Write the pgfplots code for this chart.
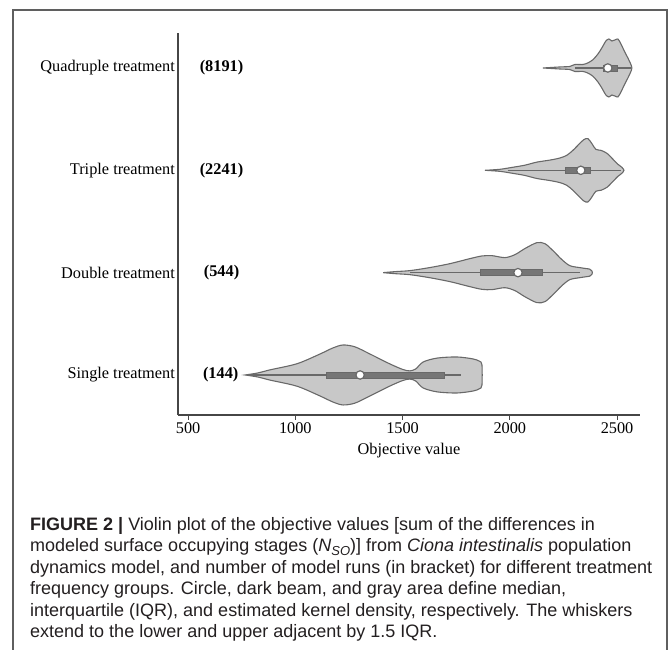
\documentclass[border=0pt]{standalone}
\usepackage{fontspec}
\setmainfont{Liberation Serif}
\newfontfamily\capfont{Liberation Sans}
\usepackage{pgfplots}
\pgfplotsset{compat=1.18}
\definecolor{vfill}{RGB}{200,200,200}
\definecolor{vedge}{RGB}{105,105,105}
\definecolor{beam}{RGB}{118,118,118}
\definecolor{framecol}{RGB}{95,95,95}
\definecolor{axcol}{RGB}{70,70,70}
\definecolor{captext}{RGB}{35,31,32}
\begin{document}
\begin{tikzpicture}[x=1bp,y=1bp]
\draw[framecol, line width=1.3bp] (13,-5) -- (13,640) -- (667,640) -- (667,-5);
\begin{axis}[
  scale only axis, width=462bp, height=382bp,
  at={(178bp,235bp)}, anchor=south west,
  xmin=453, xmax=2607, ymin=0.609, ymax=4.342,
  axis x line*=bottom, axis y line*=left,
  axis line style={axcol, line width=1.1bp, -},
  xtick={500,1000,1500,2000,2500},
  ytick={1,2,3,4},
  yticklabels={Single treatment, Double treatment, Triple treatment, Quadruple treatment},
  tick align=outside, major tick length=5bp,
  x tick style={axcol, line width=1bp},
  y tick style={draw=none},
  yticklabel style={inner xsep=0pt, xshift=2bp},
  xticklabel style={inner ysep=2bp},
  /pgf/number format/assume math mode=true,
  /pgf/number format/1000 sep={},
  tick label style={font=\fontsize{16.3bp}{19bp}\selectfont, text=black},
  xlabel={Objective value},
  xlabel style={font=\fontsize{16.3bp}{19bp}\selectfont, at={(rel axis cs:0.5,0)}, anchor=center, yshift=-36bp},
  clip=false,
]
% violins
\addplot[fill=vfill, draw=vedge, line width=1.1bp, smooth, tension=0.5] coordinates {
(766,1) (826,1.02) (882,1.05) (1008,1.11) (1115,1.205) (1176,1.265) (1222,1.293) (1278,1.275) (1348,1.205) (1441,1.108) (1501,1.054) (1534,1.04) (1562,1.06) (1596,1.127) (1661,1.165) (1753,1.176) (1828,1.157) (1858,1.135) (1870,1.10)
(1870,0.90) (1858,0.865) (1828,0.843) (1753,0.824) (1661,0.835) (1596,0.873) (1562,0.94) (1534,0.96) (1501,0.946) (1441,0.892) (1348,0.795) (1278,0.725) (1222,0.707) (1176,0.735) (1115,0.795) (1008,0.89) (882,0.95) (826,0.98) (766,1)
} -- cycle;
\addplot[fill=vfill, draw=vedge, line width=1.1bp, smooth, tension=0.5] coordinates {
(1409,2) (1465,2.01) (1535,2.02) (1628,2.05) (1721,2.088) (1814,2.137) (1870,2.163) (1917,2.166) (1977,2.147) (2024,2.176) (2070,2.235) (2126,2.293) (2164,2.283) (2201,2.215) (2243,2.127) (2280,2.068) (2327,2.049) (2355,2.04) (2373,2.034) (2383,2.015) (2385,2)
(2383,1.985) (2373,1.966) (2355,1.96) (2327,1.951) (2280,1.932) (2243,1.873) (2201,1.785) (2164,1.717) (2126,1.707) (2070,1.765) (2024,1.824) (1977,1.853) (1917,1.834) (1870,1.837) (1814,1.863) (1721,1.912) (1628,1.95) (1535,1.98) (1465,1.99) (1409,2)
} -- cycle;
\addplot[fill=vfill, draw=vedge, line width=1.1bp, smooth, tension=0.5] coordinates {
(1884,3) (1954,3.01) (2015,3.03) (2070,3.05) (2126,3.08) (2187,3.10) (2233,3.12) (2266,3.147) (2294,3.195) (2322,3.254) (2345,3.30) (2364,3.31) (2383,3.26) (2401,3.205) (2425,3.195) (2453,3.166) (2481,3.108) (2504,3.059) (2522,3.03) (2532,3)
(2522,2.97) (2504,2.941) (2481,2.892) (2453,2.834) (2425,2.805) (2401,2.795) (2383,2.74) (2364,2.69) (2345,2.70) (2322,2.746) (2294,2.805) (2266,2.853) (2233,2.88) (2187,2.90) (2126,2.92) (2070,2.95) (2015,2.97) (1954,2.99) (1884,3)
} -- cycle;
\addplot[fill=vfill, draw=vedge, line width=1.1bp, smooth, tension=0.5] coordinates {
(2154,4) (2234,4.01) (2280,4.015) (2303,4.034) (2341,4.034) (2364,4.05) (2387,4.08) (2411,4.137) (2429,4.196) (2448,4.264) (2462,4.283) (2476,4.264) (2490,4.274) (2504,4.283) (2518,4.235) (2536,4.156) (2555,4.078) (2569,4)
(2555,3.922) (2536,3.844) (2518,3.765) (2504,3.717) (2490,3.726) (2476,3.736) (2462,3.717) (2448,3.736) (2429,3.804) (2411,3.863) (2387,3.92) (2364,3.95) (2341,3.966) (2303,3.966) (2280,3.985) (2234,3.99) (2154,4)
} -- cycle;
% whiskers
\addplot[vedge, line width=1.3bp] coordinates {(790,1) (1772,1)};
\addplot[vedge, line width=1.3bp] coordinates {(1535,2) (2327,2)};
\addplot[vedge, line width=1.3bp] coordinates {(1990,3) (2520,3)};
\addplot[vedge, line width=1.3bp] coordinates {(2303,4) (2565,4)};
% IQR beams
\addplot[fill=beam, draw=vedge, line width=0.8bp] coordinates {(1143,0.97) (1693,0.97) (1693,1.03) (1143,1.03)} -- cycle;
\addplot[fill=beam, draw=vedge, line width=0.8bp] coordinates {(1861,1.97) (2150,1.97) (2150,2.03) (1861,2.03)} -- cycle;
\addplot[fill=beam, draw=vedge, line width=0.8bp] coordinates {(2257,2.97) (2378,2.97) (2378,3.03) (2257,3.03)} -- cycle;
\addplot[fill=beam, draw=vedge, line width=0.8bp] coordinates {(2436,3.97) (2500,3.97) (2500,4.03) (2436,4.03)} -- cycle;
% medians
\addplot[only marks, mark=*, mark size=4.2bp, mark options={fill=white, draw=vedge, line width=1.2bp}] coordinates {(1302,1) (2038,2) (2331,3) (2457,4)};
% run counts
\node[font=\bfseries\fontsize{16.3bp}{19bp}\selectfont] at (axis cs:656,4) {(8191)};
\node[font=\bfseries\fontsize{16.3bp}{19bp}\selectfont] at (axis cs:656,3) {(2241)};
\node[font=\bfseries\fontsize{16.3bp}{19bp}\selectfont] at (axis cs:656,2) {(544)};
\node[font=\bfseries\fontsize{16.3bp}{19bp}\selectfont] at (axis cs:652,1) {(144)};
\end{axis}
\node[anchor=north west, inner sep=0pt, text=captext, font=\capfont\fontsize{18bp}{21.5bp}\selectfont, align=left] at (30,133) {%
\textbf{FIGURE 2 |} Violin plot of the objective values [sum of the differences in\\
modeled surface occupying stages (\textit{N}\raisebox{-0.35ex}{\fontsize{13bp}{14bp}\selectfont\textit{SO}})] from \textit{Ciona intestinalis} population\\
dynamics model, and number of model runs (in bracket) for different treatment\\
frequency groups. Circle, dark beam, and gray area define median,\\
interquartile (IQR), and estimated kernel density, respectively. The whiskers\\
extend to the lower and upper adjacent by 1.5 IQR.};
\pgfresetboundingbox
\path (0,0) rectangle (669,650);
\end{tikzpicture}
\end{document}
